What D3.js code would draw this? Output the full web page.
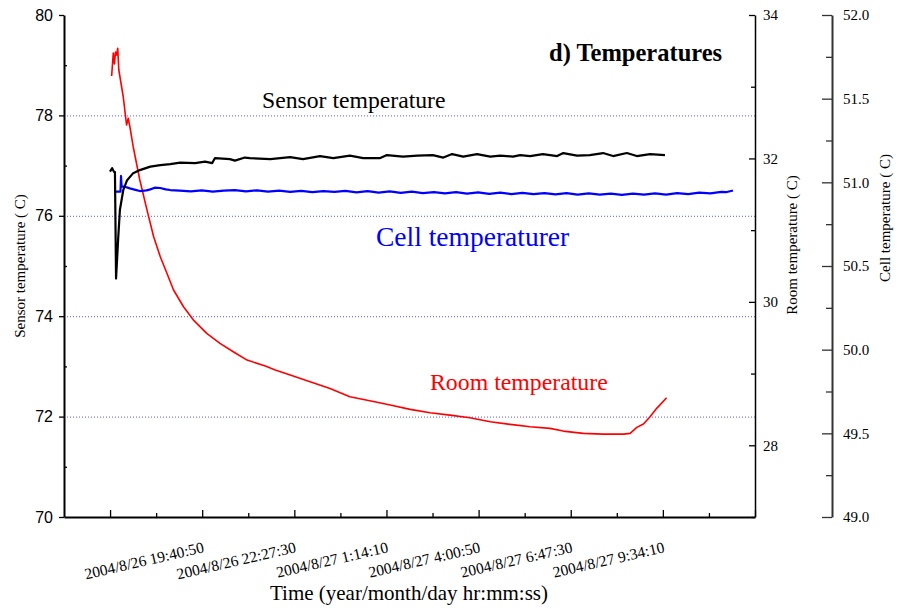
<!DOCTYPE html>
<html><head><meta charset="utf-8">
<script src="https://cdn.jsdelivr.net/npm/d3@7"></script>
<style>body{margin:0;background:#fff}</style>
</head><body><svg id="c" width="900" height="609"></svg>
<script>
const sensorData = [
["2004/8/26 16:54",76.88],["2004/8/26 16:58",76.95],["2004/8/26 17:01",76.88],["2004/8/26 17:03",76.87],
["2004/8/26 17:05",74.75],["2004/8/26 17:09",75.58],["2004/8/26 17:12",76.12],["2004/8/26 17:18",76.51],
["2004/8/26 17:25",76.71],["2004/8/26 17:36",76.85],["2004/8/26 17:48",76.91],["2004/8/26 18:07",76.98],
["2004/8/26 18:25",77.01],["2004/8/26 18:43",77.03],["2004/8/26 19:01",77.06],["2004/8/26 19:28",77.05],
["2004/8/26 19:46",77.08],["2004/8/26 19:59",77.05],["2004/8/26 20:04",77.15],["2004/8/26 20:31",77.13],
["2004/8/26 20:40",77.10],["2004/8/26 20:58",77.16],["2004/8/26 21:07",77.15],["2004/8/26 21:44",77.13],
["2004/8/26 22:20",77.17],["2004/8/26 22:43",77.13],["2004/8/26 23:14",77.19],["2004/8/26 23:38",77.15],
["2004/8/27 00:08",77.20],["2004/8/27 00:32",77.15],["2004/8/27 01:03",77.15],["2004/8/27 01:15",77.21],
["2004/8/27 01:44",77.18],["2004/8/27 02:10",77.20],["2004/8/27 02:38",77.21],["2004/8/27 02:57",77.16],
["2004/8/27 03:13",77.23],["2004/8/27 03:33",77.18],["2004/8/27 03:58",77.23],["2004/8/27 04:22",77.18],
["2004/8/27 04:40",77.20],["2004/8/27 05:03",77.18],["2004/8/27 05:16",77.21],["2004/8/27 05:34",77.19],
["2004/8/27 05:57",77.23],["2004/8/27 06:23",77.19],["2004/8/27 06:34",77.25],["2004/8/27 06:59",77.20],
["2004/8/27 07:22",77.21],["2004/8/27 07:46",77.25],["2004/8/27 08:04",77.19],["2004/8/27 08:29",77.25],
["2004/8/27 08:47",77.19],["2004/8/27 09:11",77.23],["2004/8/27 09:38",77.21]
];
const roomData = [
["2004/8/26 16:57",33.149],["2004/8/26 17:00",33.470],["2004/8/26 17:02",33.317],["2004/8/26 17:04",33.484],
["2004/8/26 17:06",33.442],["2004/8/26 17:08",33.536],["2004/8/26 17:10",33.233],["2004/8/26 17:18",32.860],
["2004/8/26 17:24",32.466],["2004/8/26 17:27",32.559],["2004/8/26 17:30",32.442],["2004/8/26 17:36",32.163],
["2004/8/26 17:48",31.699],["2004/8/26 18:01",31.280],["2004/8/26 18:13",30.908],["2004/8/26 18:25",30.629],
["2004/8/26 18:37",30.398],["2004/8/26 18:49",30.165],["2004/8/26 19:07",29.932],["2004/8/26 19:25",29.746],
["2004/8/26 19:49",29.561],["2004/8/26 20:13",29.421],["2004/8/26 20:37",29.304],["2004/8/26 21:02",29.188],
["2004/8/26 21:35",29.105],["2004/8/26 21:53",29.049],["2004/8/26 22:20",28.979],["2004/8/26 22:56",28.886],
["2004/8/26 23:32",28.793],["2004/8/27 00:08",28.676],["2004/8/27 00:44",28.621],["2004/8/27 01:21",28.561],
["2004/8/27 01:57",28.501],["2004/8/27 02:33",28.453],["2004/8/27 03:09",28.421],["2004/8/27 03:45",28.384],
["2004/8/27 04:22",28.328],["2004/8/27 04:58",28.291],["2004/8/27 05:34",28.258],["2004/8/27 06:10",28.236],
["2004/8/27 06:34",28.198],["2004/8/27 07:10",28.166],["2004/8/27 07:46",28.156],["2004/8/27 08:23",28.156],
["2004/8/27 08:35",28.166],["2004/8/27 08:47",28.250],["2004/8/27 08:59",28.296],["2004/8/27 09:11",28.398],
["2004/8/27 09:23",28.515],["2004/8/27 09:41",28.662]
];
const cellData = [
["2004/8/26 17:03",50.944],["2004/8/26 17:13",50.944],["2004/8/26 17:14",51.038],["2004/8/26 17:15",50.976],
["2004/8/26 17:21",50.974],["2004/8/26 17:30",50.964],["2004/8/26 17:40",50.955],["2004/8/26 17:48",50.948],
["2004/8/26 18:00",50.952],["2004/8/26 18:07",50.958],["2004/8/26 18:15",50.968],["2004/8/26 18:25",50.966],
["2004/8/26 18:35",50.958],["2004/8/26 18:43",50.954],["2004/8/26 19:00",50.950],["2004/8/26 19:20",50.946],
["2004/8/26 19:40",50.952],["2004/8/26 20:00",50.945],["2004/8/26 20:20",50.951],["2004/8/26 20:40",50.953],
["2004/8/26 21:00",50.946],["2004/8/26 21:20",50.952],["2004/8/26 21:40",50.944],["2004/8/26 22:00",50.950],
["2004/8/26 22:20",50.943],["2004/8/26 22:40",50.949],["2004/8/26 23:00",50.941],["2004/8/26 23:20",50.948],
["2004/8/26 23:40",50.943],["2004/8/27 00:00",50.949],["2004/8/27 00:20",50.940],["2004/8/27 00:40",50.947],
["2004/8/27 01:00",50.939],["2004/8/27 01:20",50.946],["2004/8/27 01:40",50.937],["2004/8/27 02:00",50.944],
["2004/8/27 02:20",50.936],["2004/8/27 02:40",50.942],["2004/8/27 03:00",50.934],["2004/8/27 03:20",50.941],
["2004/8/27 03:40",50.933],["2004/8/27 04:00",50.940],["2004/8/27 04:20",50.931],["2004/8/27 04:40",50.938],
["2004/8/27 05:00",50.930],["2004/8/27 05:20",50.937],["2004/8/27 05:40",50.929],["2004/8/27 06:00",50.936],
["2004/8/27 06:20",50.928],["2004/8/27 06:40",50.935],["2004/8/27 07:00",50.927],["2004/8/27 07:20",50.934],
["2004/8/27 07:40",50.926],["2004/8/27 08:00",50.933],["2004/8/27 08:20",50.925],["2004/8/27 08:40",50.932],
["2004/8/27 09:00",50.926],["2004/8/27 09:20",50.934],["2004/8/27 09:40",50.927],["2004/8/27 10:00",50.935],
["2004/8/27 10:20",50.929],["2004/8/27 10:40",50.938],["2004/8/27 11:00",50.934],["2004/8/27 11:20",50.943],
["2004/8/27 11:30",50.942],["2004/8/27 11:41",50.951]
];
const xMajorTicks = ["2004/8/26 16:54:10","2004/8/26 19:40:50","2004/8/26 22:27:30","2004/8/27 1:14:10",
  "2004/8/27 4:00:50","2004/8/27 6:47:30","2004/8/27 9:34:10","2004/8/27 12:20:50"];
const xTickLabels = ["","2004/8/26 19:40:50","2004/8/26 22:27:30","2004/8/27 1:14:10",
  "2004/8/27 4:00:50","2004/8/27 6:47:30","2004/8/27 9:34:10",""];
const xMinorTicks = ["2004/8/26 18:17:30","2004/8/26 21:04:10","2004/8/26 23:50:50","2004/8/27 2:37:30",
  "2004/8/27 5:24:10","2004/8/27 8:10:50","2004/8/27 10:57:30"];
const xDomain = ["2004/8/26 15:30:50","2004/8/27 12:20:50"];
const sensorTicks = [70,72,74,76,78,80];
const sensorMinor = [71,73,75,77,79];
const roomTicks = [28,30,32,34];
const roomMinor = [27,29,31,33];
const cellTicks = [49.0,49.5,50.0,50.5,51.0,51.5,52.0];
const cellMinor = [49.25,49.75,50.25,50.75,51.25,51.75];
const gridValues = [72,74,76,78];

const parse = d3.timeParse("%Y/%m/%d %H:%M");
const parseS = d3.timeParse("%Y/%m/%d %H:%M:%S");
const L = 64, R = 755, T = 15, B = 517, CELLX = 832;
const serif = "'Liberation Serif','Times New Roman',serif";
const sans = "'Liberation Sans',Arial,sans-serif";

const svg = d3.select("#c");
const x = d3.scaleTime().domain(xDomain.map(parseS)).range([L, R]);
const yS = d3.scaleLinear().domain([70, 80]).range([B, T]);
const yR = d3.scaleLinear().domain([27, 34]).range([B, T]);
const yC = d3.scaleLinear().domain([49, 52]).range([B, T]);

// grid
svg.append("g").selectAll("line").data(gridValues).join("line")
  .attr("x1", L).attr("x2", R).attr("y1", d => yS(d) + 0.5).attr("y2", d => yS(d) + 0.5)
  .attr("stroke", "#3c3cff").attr("stroke-width", 1).attr("stroke-dasharray", "1,2").attr("opacity", 0.85);

// lines
function drawLine(data, y, color, w) {
  svg.append("path").datum(data)
    .attr("fill", "none").attr("stroke", color).attr("stroke-width", w).attr("stroke-linejoin", "round")
    .attr("d", d3.line().x(d => x(parse(d[0]))).y(d => y(d[1])));
}
drawLine(roomData, yR, "#ff0000", 1.6);
drawLine(cellData, yC, "#0000ff", 2.2);
drawLine(sensorData, yS, "#000000", 2.2);

function styleAxis(g, w, col, font, size) {
  g.select(".domain").attr("stroke", col).attr("stroke-width", w);
  g.selectAll(".tick line").attr("stroke", col).attr("stroke-width", 1.3);
  g.selectAll("text").attr("font-family", font).attr("font-size", size).attr("fill", "#000");
}

// left sensor axis
const gL = svg.append("g").attr("transform", `translate(${L},0)`)
  .call(d3.axisLeft(yS).tickValues(sensorTicks).tickSize(5).tickSizeOuter(0).tickPadding(6).tickFormat(d3.format("d")));
styleAxis(gL, 2, "#000", sans, 16);
const gLm = svg.append("g").attr("transform", `translate(${L},0)`)
  .call(d3.axisRight(yS).tickValues(sensorMinor).tickSize(3).tickFormat(""));
gLm.select(".domain").remove();
gLm.selectAll(".tick line").attr("stroke", "#000").attr("stroke-width", 1.3);

// bottom axis
const gB = svg.append("g").attr("transform", `translate(0,${B})`)
  .call(d3.axisBottom(x).tickValues(xMajorTicks.map(parseS)).tickSize(-7).tickSizeOuter(0)
    .tickFormat((d, i) => xTickLabels[i]));
styleAxis(gB, 2, "#000", serif, 15.5);
gB.selectAll(".tick text").attr("y", 0).attr("dy", 0).attr("text-anchor", "end")
  .attr("transform", "translate(2,35) rotate(-13)");
const gBm = svg.append("g").attr("transform", `translate(0,${B})`)
  .call(d3.axisBottom(x).tickValues(xMinorTicks.map(parseS)).tickSize(-4).tickFormat(""));
gBm.select(".domain").remove();
gBm.selectAll(".tick line").attr("stroke", "#000").attr("stroke-width", 1.3);

// room axis
const gR = svg.append("g").attr("transform", `translate(${R},0)`)
  .call(d3.axisRight(yR).tickValues(roomTicks).tickSize(-6).tickSizeOuter(0).tickPadding(8).tickFormat(d3.format("d")));
styleAxis(gR, 1.5, "#000", serif, 15);
const gRm = svg.append("g").attr("transform", `translate(${R},0)`)
  .call(d3.axisRight(yR).tickValues(roomMinor).tickSize(-4).tickFormat(""));
gRm.select(".domain").remove();
gRm.selectAll(".tick line").attr("stroke", "#000").attr("stroke-width", 1.3);

// cell axis
const gC = svg.append("g").attr("transform", `translate(${CELLX},0)`)
  .call(d3.axisRight(yC).tickValues(cellTicks).tickSize(-10).tickSizeOuter(0).tickPadding(11).tickFormat(d3.format(".1f")));
styleAxis(gC, 2, "#333", serif, 15);
const gCm = svg.append("g").attr("transform", `translate(${CELLX},0)`)
  .call(d3.axisRight(yC).tickValues(cellMinor).tickSize(-6).tickFormat(""));
gCm.select(".domain").remove();
gCm.selectAll(".tick line").attr("stroke", "#333").attr("stroke-width", 1.3);

// axis titles
function vText(tx, ty, s) {
  svg.append("text").attr("transform", `translate(${tx},${ty}) rotate(-90)`).attr("text-anchor", "middle")
    .attr("font-family", serif).attr("font-size", 15).attr("fill", "#000").text(s);
}
vText(25, 266, "Sensor temperature ( C)");
vText(797, 245, "Room temperature ( C)");
vText(890, 218, "Cell temperature ( C)");

svg.append("text").attr("x", 409).attr("y", 600).attr("text-anchor", "middle")
  .attr("font-family", serif).attr("font-size", 21).attr("fill", "#000").text("Time (year/month/day hr:mm:ss)");

// annotations
svg.append("text").attr("x", 549).attr("y", 61).attr("font-family", serif).attr("font-weight", "bold")
  .attr("font-size", 24.5).attr("fill", "#000").text("d) Temperatures");
svg.append("text").attr("x", 262).attr("y", 108).attr("font-family", serif).attr("font-size", 23.7)
  .attr("fill", "#000").text("Sensor temperature");
svg.append("text").attr("x", 376).attr("y", 246).attr("font-family", serif).attr("font-size", 27.5)
  .attr("fill", "#0000ff").text("Cell temperaturer");
svg.append("text").attr("x", 430).attr("y", 390).attr("font-family", serif).attr("font-size", 23.8)
  .attr("fill", "#ff0000").text("Room temperature");
</script></body></html>
